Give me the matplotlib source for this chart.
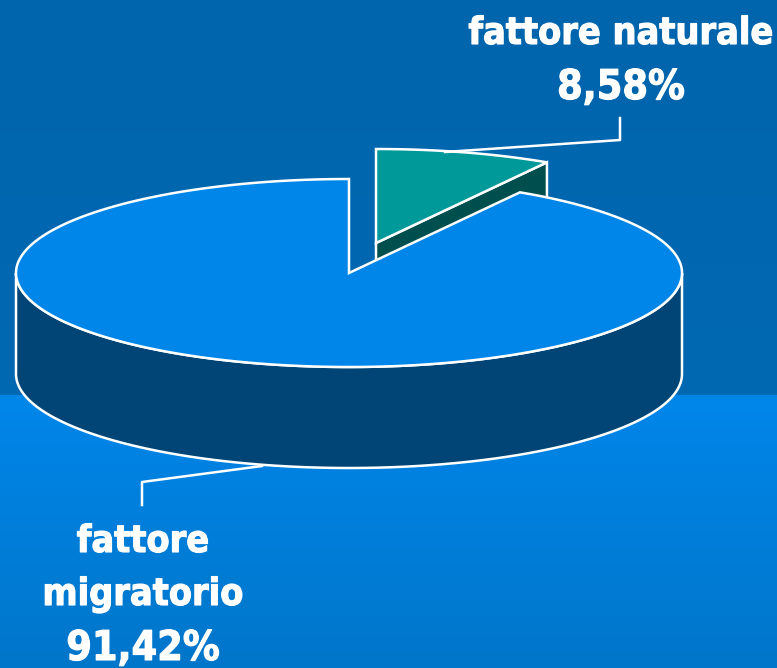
import numpy as np
import matplotlib
matplotlib.use("Agg")
import matplotlib.pyplot as plt
import matplotlib.patheffects as pe
from matplotlib.colors import LinearSegmentedColormap

labels = ["fattore\nmigratorio", "fattore naturale"]
shares = [91.42, 8.58]

plt.rcParams["font.family"] = ["DejaVu Sans"]

W, H = 777, 668
RX, RY, DEPTH = 333, 94, 101
SPLIT_Y = 395
LW = 1.8


def rim(cx, cy, t0, t1, n=200):
    # t measured clockwise from 12 o'clock, squashed onto the ellipse
    t = np.linspace(t0, t1, n)
    return cx + RX * np.sin(t), cy - RY * np.cos(t)


fig = plt.figure(figsize=(W / 100, H / 100), dpi=100)
ax = fig.add_axes([0, 0, 1, 1])
ax.set_xlim(0, W)
ax.set_ylim(H, 0)
ax.axis("off")

# background: darker band on top, gradient below
top_cm = LinearSegmentedColormap.from_list("top", ["#0065AC", "#0068B2"])
bot_cm = LinearSegmentedColormap.from_list("bot", ["#0086EA", "#0076CA"])
grad = np.linspace(0, 1, 256).reshape(-1, 1)
ax.imshow(grad, cmap=top_cm, extent=[0, W, SPLIT_Y, 0], aspect="auto", zorder=0)
ax.imshow(grad, cmap=bot_cm, extent=[0, W, H, SPLIT_Y], aspect="auto", zorder=0)
ax.set_xlim(0, W)
ax.set_ylim(H, 0)

sweep = 2 * np.pi * shares[1] / sum(shares)

# small slice, pulled out of the pie
cx, cy = 376, 243
x, y = rim(cx, cy, 0, sweep)
ax.fill([cx, x[-1], x[-1], cx], [cy, y[-1], y[-1] + DEPTH, cy + DEPTH],
        fc="#004F4F", ec="white", lw=LW, zorder=2, joinstyle="miter")
ax.fill(np.r_[cx, x], np.r_[cy, y], fc="#009999", ec="white", lw=LW, zorder=3,
        joinstyle="miter")

# big slice: side wall first, then top face
cx, cy = 349, 273
x, y = rim(cx, cy, np.pi / 2, 3 * np.pi / 2)
ax.fill(np.r_[x, x[::-1]], np.r_[y, y[::-1] + DEPTH], fc="#004575", ec="white",
        lw=LW, zorder=4)
x, y = rim(cx, cy, sweep, 2 * np.pi, 400)
ax.fill(np.r_[cx, x], np.r_[cy, y], fc="#0085E8", ec="white", lw=LW, zorder=5,
        joinstyle="miter")

# leader lines
ax.plot([620, 620, 445], [118, 140, 152], color="white", lw=LW, zorder=6)
ax.plot([142, 142, 262], [505, 482, 466], color="white", lw=LW, zorder=6)


def pct(v):
    return f"{v:.2f}%".replace(".", ",")


bold = [pe.withStroke(linewidth=0.8, foreground="white")]
txt = dict(color="white", fontweight="bold", fontstretch="condensed", fontsize=27,
           ha="center", va="center", zorder=7, path_effects=bold)
ax.text(621, 34, labels[1], **txt)
ax.text(621, 88, pct(shares[1]), **{**txt, "fontsize": 29.5})
first, second = labels[0].split("\n")
ax.text(143, 542, first, **txt)
ax.text(143, 595, second, **txt)
ax.text(143, 649, pct(shares[0]), **{**txt, "fontsize": 29.5})

fig.savefig("out.png", dpi=100)
